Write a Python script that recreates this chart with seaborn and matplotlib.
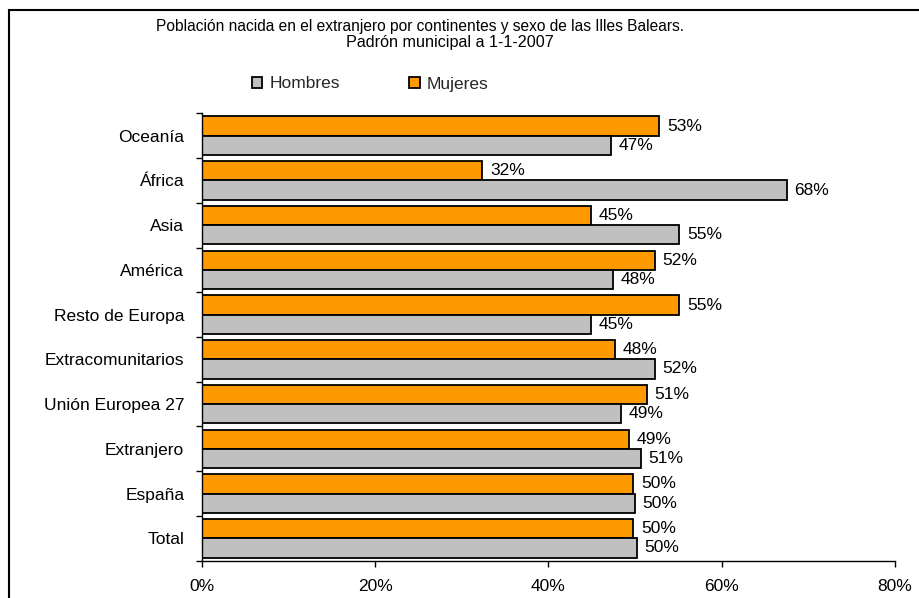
import matplotlib
matplotlib.use("Agg")
import matplotlib.pyplot as plt
from matplotlib.patches import Patch, Rectangle
from matplotlib.ticker import FixedLocator, FuncFormatter
import seaborn as sns
import pandas as pd

categories = ["Oceanía", "África", "Asia", "América", "Resto de Europa",
              "Extracomunitarios", "Unión Europea 27", "Extranjero", "España", "Total"]
mujeres = [52.8, 32.4, 44.9, 52.3, 55.1, 47.7, 51.4, 49.3, 49.8, 49.8]
hombres = [47.2, 67.5, 55.1, 47.5, 44.9, 52.3, 48.4, 50.7, 50.0, 50.2]
mujeres_lbl = ["53%", "32%", "45%", "52%", "55%", "48%", "51%", "49%", "50%", "50%"]
hombres_lbl = ["47%", "68%", "55%", "48%", "45%", "52%", "49%", "51%", "50%", "50%"]
xticks = [0, 20, 40, 60, 80]

title1 = "Población nacida en el extranjero por continentes y sexo de las Illes Balears."
title2 = "Padrón municipal a 1-1-2007"

df = pd.DataFrame({
    "cat": categories * 2,
    "sexo": ["Mujeres"] * len(categories) + ["Hombres"] * len(categories),
    "val": mujeres + hombres,
})

sns.set_theme(style="white")
plt.rcParams["font.family"] = ["Liberation Sans", "DejaVu Sans"]
FS = 12.5

W, H = 920, 598
fig = plt.figure(figsize=(W / 100, H / 100), dpi=100)
ax = fig.add_axes([201.7 / W, 1 - 560.7 / H, (895 - 201.7) / W, (560.7 - 113.3) / H])

palette = {"Mujeres": "#FF9900", "Hombres": "#C0C0C0"}
sns.barplot(data=df, y="cat", x="val", hue="sexo", hue_order=["Mujeres", "Hombres"],
            order=categories, palette=palette, orient="h", width=0.86, gap=0,
            edgecolor="black", linewidth=1.3, saturation=1, legend=False, ax=ax)

ax.set_xlim(0, 80)
ax.set_ylim(len(categories) - 0.5, -0.5)
ax.set_xlabel("")
ax.set_ylabel("")
ax.xaxis.set_major_locator(FixedLocator(xticks))
ax.xaxis.set_major_formatter(FuncFormatter(lambda v, p: f"{int(v)}%"))
ax.tick_params(axis="x", which="major", direction="out", length=4.5, width=1,
               color="black", labelsize=FS, pad=9, bottom=True, labelcolor="black")
ax.tick_params(axis="y", which="major", length=0, labelsize=FS, pad=12.5, labelcolor="black")
ax.set_yticks([i - 0.5 for i in range(len(categories) + 1)], minor=True)
ax.tick_params(axis="y", which="minor", direction="out", length=4.5, width=1,
               color="black", left=True)
for s in ["top", "right"]:
    ax.spines[s].set_visible(False)
for s in ["left", "bottom"]:
    ax.spines[s].set_color("black")
    ax.spines[s].set_linewidth(1)
ax.grid(False)

# data labels
labels_by_hue = [mujeres_lbl, hombres_lbl]
for container, lbls in zip(ax.containers, labels_by_hue):
    ax.bar_label(container, labels=lbls, padding=5.5, fontsize=FS, color="black")

# title
fig.text(420 / W, 1 - 27 / H, title1, ha="center", va="center", fontsize=11.2, color="black")
fig.text(450 / W, 1 - 42.5 / H, title2, ha="center", va="center", fontsize=11.6, color="black")

# legend
handles = [Patch(facecolor=palette["Hombres"], edgecolor="black", linewidth=1.3),
           Patch(facecolor=palette["Mujeres"], edgecolor="black", linewidth=1.3)]
fig.legend(handles, ["Hombres", "Mujeres"], loc="center", bbox_to_anchor=(370 / W, 1 - 84 / H),
           ncol=2, frameon=False, fontsize=FS, handlelength=0.6, handleheight=0.6,
           handletextpad=0.4, columnspacing=4.0, borderpad=0)

# outer frame
fig.patches.append(Rectangle((9.5 / W, -0.1), 1.0, (H - 9.5) / H + 0.1,
                             transform=fig.transFigure, fill=False,
                             edgecolor="black", linewidth=1.5, clip_on=False))

fig.savefig("out.png", dpi=100)
